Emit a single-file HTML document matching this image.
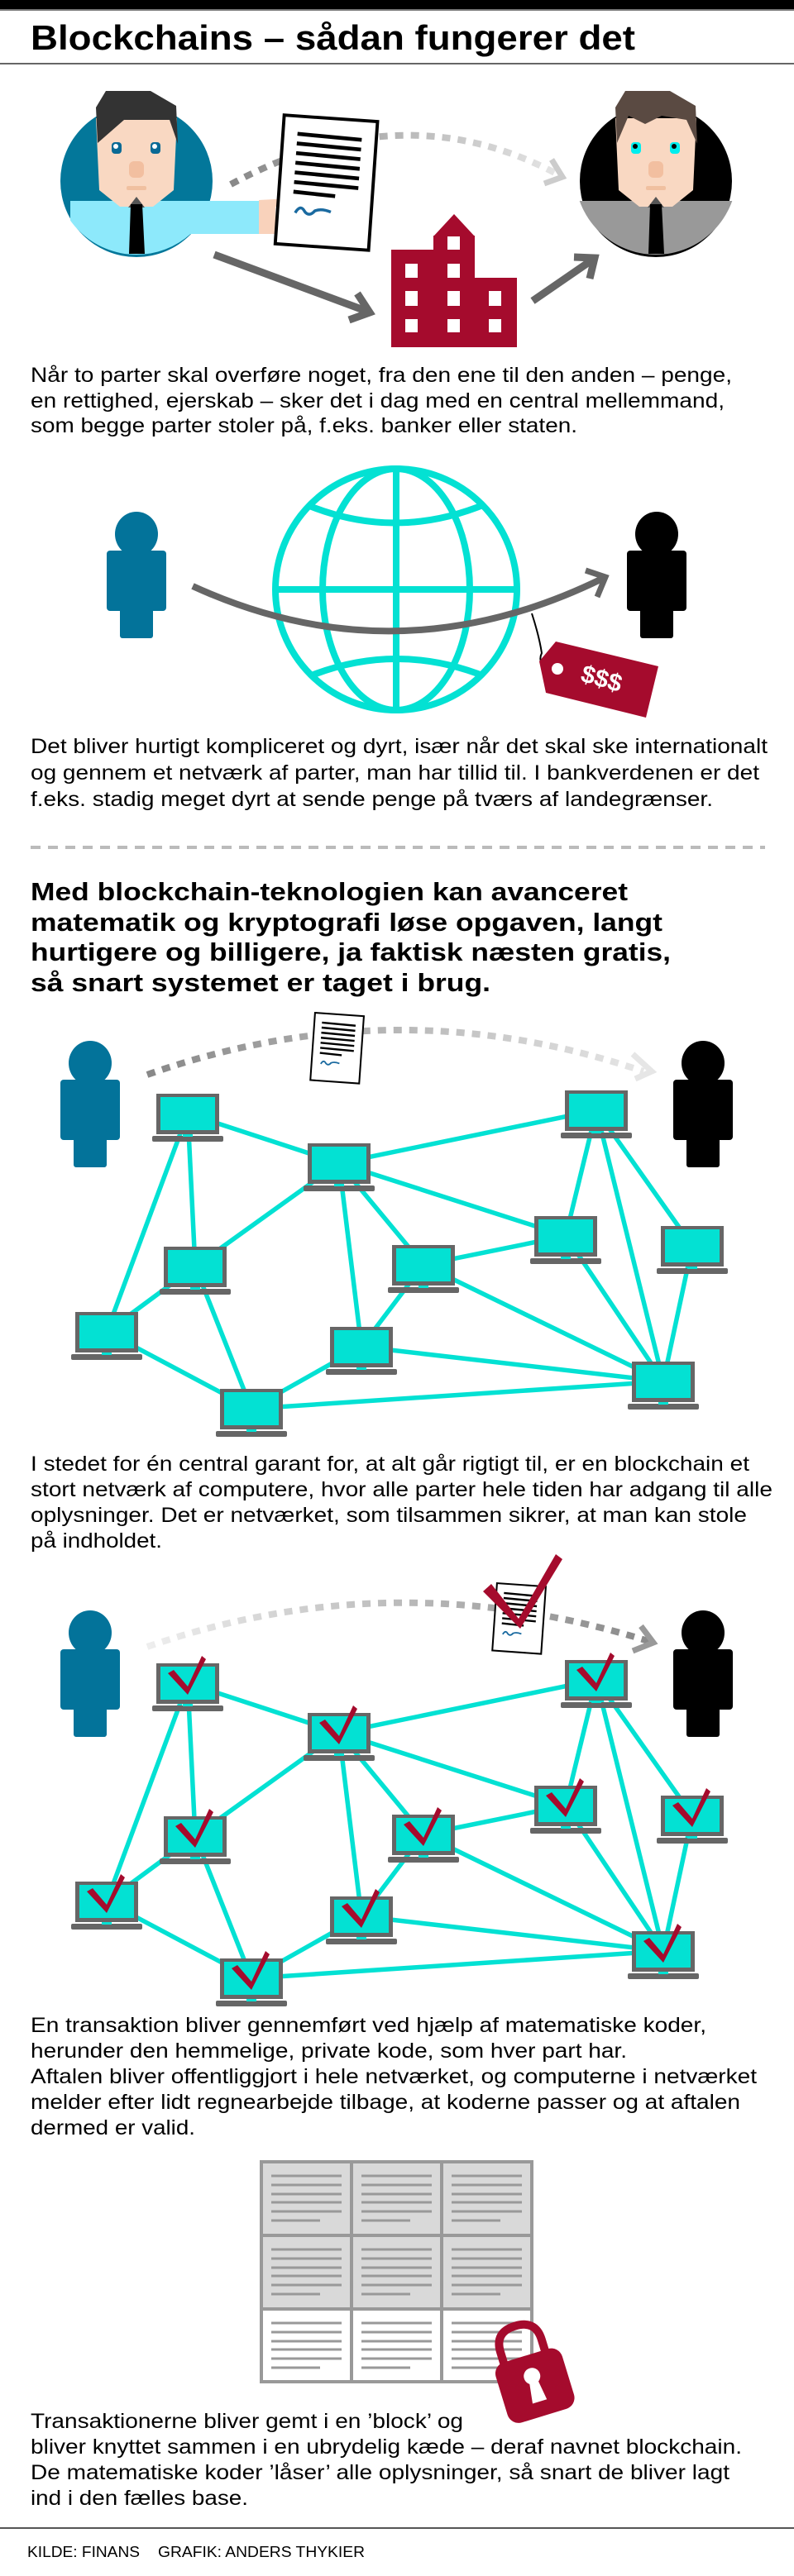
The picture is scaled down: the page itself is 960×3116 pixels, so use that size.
<!DOCTYPE html>
<html><head><meta charset="utf-8"><style>html,body{margin:0;padding:0;background:#fff}svg{display:block}</style></head>
<body>
<svg xmlns="http://www.w3.org/2000/svg" xmlns:xlink="http://www.w3.org/1999/xlink" width="960" height="3116" viewBox="0 0 960 3116" font-family="Liberation Sans, Arial, sans-serif">
<defs>
<g id="lap">
<rect x="-38" y="-24" width="76" height="49" fill="#666"/>
<rect x="-33" y="-20" width="66" height="40" fill="#03e1d3"/>
<rect x="-43" y="27" width="86" height="7" rx="2" fill="#666"/>
<rect x="-6" y="25" width="12" height="3" fill="#03e1d3"/>
</g>
<polygon id="chk" points="-24,-12 -17,-16 0,4 17,-33 22,-29 0,14" fill="#a50b2d"/>
<g id="pers">
<ellipse cx="0" cy="0" rx="26" ry="27"/>
<rect x="-36" y="20" width="72" height="73" rx="4"/>
<rect x="-20" y="80" width="40" height="46" rx="3"/>
</g>
<g id="doc">
<rect x="0" y="0" width="58" height="80" fill="#fff" stroke="#000" stroke-width="2"/>
<g stroke="#000" stroke-width="2.4">
<line x1="9" y1="11" x2="49" y2="12"/><line x1="9" y1="17" x2="49" y2="18"/><line x1="9" y1="23" x2="49" y2="24"/><line x1="9" y1="29" x2="49" y2="30"/><line x1="9" y1="35" x2="49" y2="36"/><line x1="9" y1="41" x2="49" y2="42"/><line x1="9" y1="47" x2="35" y2="48"/>
</g>
<path d="M11,60 q3,-6 6,-1 q3,3 6,-1 q4,-2 10,0" fill="none" stroke="#1a6aa0" stroke-width="1.8"/>
</g>
<g id="cell">
<g stroke="#999" stroke-width="3">
<line x1="14" y1="19" x2="99" y2="19"/><line x1="14" y1="30" x2="99" y2="30"/><line x1="14" y1="41" x2="99" y2="41"/><line x1="14" y1="51" x2="99" y2="51"/><line x1="14" y1="62" x2="99" y2="62"/><line x1="14" y1="73" x2="73" y2="73"/>
</g>
</g>
<linearGradient id="gL" x1="0" x2="1"><stop offset="0" stop-color="#888"/><stop offset="1" stop-color="#e6e6e6"/></linearGradient>
<linearGradient id="gR" x1="0" x2="1"><stop offset="0" stop-color="#eee"/><stop offset="1" stop-color="#888"/></linearGradient>
<clipPath id="c1"><circle cx="165" cy="210" r="98"/><rect x="200" y="243" width="115" height="40"/></clipPath>
<clipPath id="c2"><circle cx="793" cy="210" r="98"/></clipPath>
<clipPath id="glob"><circle cx="479" cy="713" r="149"/></clipPath>
</defs>

<!-- header -->
<rect x="0" y="0" width="960" height="11" fill="#000"/>
<rect x="0" y="11" width="960" height="2" fill="#777"/>
<text x="37" y="60" font-size="42" font-weight="bold" textLength="731" lengthAdjust="spacingAndGlyphs">Blockchains – sådan fungerer det</text>
<rect x="0" y="76" width="960" height="2" fill="#666"/>

<!-- section 1 -->
<circle cx="165" cy="219" r="92" fill="#03779a"/>
<circle cx="793" cy="219" r="92" fill="#000"/>
<path d="M279,223 Q490,109 680,214" fill="none" stroke="url(#gL)" stroke-width="8" stroke-dasharray="10 9"/>
<polyline points="667,193 680,214 658,222" fill="none" stroke="#ccc" stroke-width="7"/>
<g clip-path="url(#c1)">
<path d="M85,243 L313,243 L313,283 L250,283 L240,330 L85,330 Z" fill="#8de9fb"/>
</g>
<path d="M313,242 L350,240 Q355,245 345,249 L333,250 L333,283 L313,283 Z" fill="#f9d2bb"/>
<polygon points="116,143 214,143 210,230 185,250 145,250 120,230" fill="#f9d8c2"/>
<polygon points="128,110 182,110 213,128 215,174 205,145 150,145 118,173 116,130" fill="#333"/>
<polygon points="155,251 165,238 175,251" fill="#555"/>
<polygon points="158,247 172,247 175,307 156,307" fill="#000"/>
<rect x="135" y="172" width="12" height="14" rx="4" fill="#0a6a95"/><rect x="182" y="172" width="12" height="14" rx="4" fill="#0a6a95"/>
<circle cx="140" cy="177" r="3" fill="#fff"/><circle cx="187" cy="177" r="3" fill="#fff"/>
<rect x="156" y="195" width="18" height="20" rx="6" fill="#f2bfa0"/>
<rect x="153" y="225" width="24" height="5" rx="2" fill="#f0c0a0"/>
<g transform="rotate(4 395 222)"><use xlink:href="#doc" transform="translate(338,143) scale(1.95 1.95)"/></g>

<g clip-path="url(#c2)"><rect x="690" y="243" width="220" height="70" fill="#999"/></g>
<polygon points="744,143 842,143 838,230 813,250 773,250 748,230" fill="#f9d8c2"/>
<polygon points="756,110 810,110 841,128 843,174 830,145 800,140 780,150 760,140 746,173 744,130" fill="#5a4a42"/>
<polygon points="783,251 793,238 803,251" fill="#555"/>
<polygon points="786,247 800,247 803,307 784,307" fill="#000"/>
<rect x="763" y="172" width="12" height="14" rx="4" fill="#0ee"/><rect x="810" y="172" width="12" height="14" rx="4" fill="#0ee"/>
<circle cx="768" cy="177" r="3" fill="#000"/><circle cx="815" cy="177" r="3" fill="#000"/>
<rect x="784" y="195" width="18" height="20" rx="6" fill="#f2bfa0"/>
<rect x="781" y="225" width="24" height="5" rx="2" fill="#f0c0a0"/>

<!-- building -->
<g fill="#a50b2d">
<polygon points="524,286 549,259 574,286"/>
<rect x="524" y="285" width="50" height="135"/>
<rect x="473" y="302" width="52" height="118"/>
<rect x="573" y="336" width="52" height="84"/>
</g>
<g fill="#fff">
<rect x="541" y="286" width="15" height="16"/>
<rect x="490" y="319" width="15" height="17"/><rect x="541" y="319" width="15" height="17"/>
<rect x="490" y="352" width="15" height="18"/><rect x="541" y="352" width="15" height="18"/><rect x="591" y="352" width="15" height="18"/>
<rect x="490" y="386" width="15" height="16"/><rect x="541" y="386" width="15" height="16"/><rect x="591" y="386" width="15" height="16"/>
</g>
<g stroke="#666" stroke-width="9" fill="none">
<line x1="259" y1="308" x2="445" y2="377"/>
<polyline points="432,355 447,378 422,387"/>
<line x1="644" y1="364" x2="718" y2="313"/>
<polyline points="694,311 719,312 713,337"/>
</g>

<g font-size="25">
<text x="37" y="462" textLength="848" lengthAdjust="spacingAndGlyphs">Når to parter skal overføre noget, fra den ene til den anden – penge,</text>
<text x="37" y="493" textLength="839" lengthAdjust="spacingAndGlyphs">en rettighed, ejerskab – sker det i dag med en central mellemmand,</text>
<text x="37" y="523" textLength="661" lengthAdjust="spacingAndGlyphs">som begge parter stoler på, f.eks. banker eller staten.</text>
</g>

<!-- section 2 -->
<use xlink:href="#pers" transform="translate(165,646)" fill="#03739a"/>
<use xlink:href="#pers" transform="translate(794,646)" fill="#000"/>
<g fill="none" stroke="#03e1d3" stroke-width="8">
<circle cx="479" cy="713" r="146"/>
<ellipse cx="479" cy="713" rx="89" ry="146"/>
<g clip-path="url(#glob)">
<line x1="479" y1="560" x2="479" y2="870"/>
<line x1="320" y1="713" x2="640" y2="713"/>
<path d="M360,606 Q479,660 600,604"/>
<path d="M360,824 Q479,770 600,824"/>
</g>
</g>
<path d="M233,709 Q479,822 728,700" fill="none" stroke="#666" stroke-width="8"/>
<polyline points="708,690 732,698 722,722" fill="none" stroke="#666" stroke-width="7"/>
<path d="M643,742 Q652,770 655,790 Q650,800 660,810" fill="none" stroke="#000" stroke-width="2"/>
<polygon points="652,800 672,776 796,806 781,868 660,838" fill="#a50b2d"/>
<circle cx="674" cy="809" r="7" fill="#fff"/>
<text x="700" y="832" font-size="30" font-weight="bold" fill="#fff" transform="rotate(16 730 830)">$$$</text>

<g font-size="25">
<text x="37" y="911" textLength="891" lengthAdjust="spacingAndGlyphs">Det bliver hurtigt kompliceret og dyrt, især når det skal ske internationalt</text>
<text x="37" y="943" textLength="881" lengthAdjust="spacingAndGlyphs">og gennem et netværk af parter, man har tillid til. I bankverdenen er det</text>
<text x="37" y="975" textLength="825" lengthAdjust="spacingAndGlyphs">f.eks. stadig meget dyrt at sende penge på tværs af landegrænser.</text>
</g>
<line x1="37" y1="1025" x2="925" y2="1025" stroke="#bbb" stroke-width="4" stroke-dasharray="12 9"/>
<g font-size="31" font-weight="bold">
<text x="37" y="1089" textLength="722" lengthAdjust="spacingAndGlyphs">Med blockchain-teknologien kan avanceret</text>
<text x="37" y="1126" textLength="764" lengthAdjust="spacingAndGlyphs">matematik og kryptografi løse opgaven, langt</text>
<text x="37" y="1162" textLength="774" lengthAdjust="spacingAndGlyphs">hurtigere og billigere, ja faktisk næsten gratis,</text>
<text x="37" y="1199" textLength="556" lengthAdjust="spacingAndGlyphs">så snart systemet er taget i brug.</text>
</g>

<!-- network 1 -->
<g id="net">
<g stroke="#03e1d3" stroke-width="5.5">
<line x1="227" y1="1347" x2="410" y2="1407"/>
<line x1="227" y1="1347" x2="236" y2="1532"/>
<line x1="227" y1="1347" x2="129" y2="1611"/>
<line x1="410" y1="1407" x2="721" y2="1343"/>
<line x1="410" y1="1407" x2="236" y2="1532"/>
<line x1="410" y1="1407" x2="437" y2="1629"/>
<line x1="410" y1="1407" x2="512" y2="1530"/>
<line x1="410" y1="1407" x2="684" y2="1495"/>
<line x1="721" y1="1343" x2="684" y2="1495"/>
<line x1="721" y1="1343" x2="802" y2="1671"/>
<line x1="721" y1="1343" x2="837" y2="1507"/>
<line x1="684" y1="1495" x2="512" y2="1530"/>
<line x1="684" y1="1495" x2="802" y2="1671"/>
<line x1="512" y1="1530" x2="802" y2="1671"/>
<line x1="512" y1="1530" x2="437" y2="1629"/>
<line x1="837" y1="1507" x2="802" y2="1671"/>
<line x1="236" y1="1532" x2="129" y2="1611"/>
<line x1="236" y1="1532" x2="304" y2="1704"/>
<line x1="129" y1="1611" x2="304" y2="1704"/>
<line x1="304" y1="1704" x2="437" y2="1629"/>
<line x1="437" y1="1629" x2="802" y2="1671"/>
<line x1="304" y1="1704" x2="802" y2="1671"/>
</g>
<use xlink:href="#lap" x="227" y="1347"/>
<use xlink:href="#lap" x="410" y="1407"/>
<use xlink:href="#lap" x="721" y="1343"/>
<use xlink:href="#lap" x="236" y="1532"/>
<use xlink:href="#lap" x="512" y="1530"/>
<use xlink:href="#lap" x="684" y="1495"/>
<use xlink:href="#lap" x="837" y="1507"/>
<use xlink:href="#lap" x="129" y="1611"/>
<use xlink:href="#lap" x="437" y="1629"/>
<use xlink:href="#lap" x="802" y="1671"/>
<use xlink:href="#lap" x="304" y="1704"/>
<use xlink:href="#pers" transform="translate(109,1286)" fill="#03739a"/>
<use xlink:href="#pers" transform="translate(850,1286)" fill="#000"/>
</g>
<path d="M178,1300 Q478,1194 778,1296" fill="none" stroke="url(#gL)" stroke-width="8" stroke-dasharray="10 9"/>
<polyline points="765,1275 788,1296 768,1305" fill="none" stroke="#e6e6e6" stroke-width="7"/>
<g transform="rotate(4 407 1268)"><use xlink:href="#doc" transform="translate(378,1227) scale(1.02 1.02)"/></g>

<g font-size="25">
<text x="37" y="1779" textLength="869" lengthAdjust="spacingAndGlyphs">I stedet for én central garant for, at alt går rigtigt til, er en blockchain et</text>
<text x="37" y="1810" textLength="897" lengthAdjust="spacingAndGlyphs">stort netværk af computere, hvor alle parter hele tiden har adgang til alle</text>
<text x="37" y="1841" textLength="866" lengthAdjust="spacingAndGlyphs">oplysninger. Det er netværket, som tilsammen sikrer, at man kan stole</text>
<text x="37" y="1872" textLength="159" lengthAdjust="spacingAndGlyphs">på indholdet.</text>
</g>

<!-- network 2 -->
<use xlink:href="#net" transform="translate(0,689)"/>
<path d="M178,1992 Q478,1888 790,1987" fill="none" stroke="url(#gR)" stroke-width="8" stroke-dasharray="10 9"/>
<polyline points="775,1967 790,1987 765,1997" fill="none" stroke="#999" stroke-width="7"/>
<g transform="rotate(4 627 1958)"><use xlink:href="#doc" transform="translate(598,1917) scale(1.02 1.02)"/></g>
<polygon points="584,1925 594,1916 627,1958 672,1880 680,1886 629,1970" fill="#a50b2d"/>
<g>
<use xlink:href="#chk" x="227" y="2036"/>
<use xlink:href="#chk" x="410" y="2096"/>
<use xlink:href="#chk" x="721" y="2032"/>
<use xlink:href="#chk" x="236" y="2221"/>
<use xlink:href="#chk" x="512" y="2219"/>
<use xlink:href="#chk" x="684" y="2184"/>
<use xlink:href="#chk" x="837" y="2196"/>
<use xlink:href="#chk" x="129" y="2300"/>
<use xlink:href="#chk" x="437" y="2318"/>
<use xlink:href="#chk" x="802" y="2360"/>
<use xlink:href="#chk" x="304" y="2393"/>
</g>

<g font-size="25">
<text x="37" y="2458" textLength="817" lengthAdjust="spacingAndGlyphs">En transaktion bliver gennemført ved hjælp af matematiske koder,</text>
<text x="37" y="2489" textLength="721" lengthAdjust="spacingAndGlyphs">herunder den hemmelige, private kode, som hver part har.</text>
<text x="37" y="2520" textLength="878" lengthAdjust="spacingAndGlyphs">Aftalen bliver offentliggjort i hele netværket, og computerne i netværket</text>
<text x="37" y="2551" textLength="858" lengthAdjust="spacingAndGlyphs">melder efter lidt regnearbejde tilbage, at koderne passer og at aftalen</text>
<text x="37" y="2582" textLength="199" lengthAdjust="spacingAndGlyphs">dermed er valid.</text>
</g>

<!-- blocks -->
<rect x="316" y="2615" width="327" height="178" fill="#d9d9d9"/>
<rect x="316" y="2793" width="327" height="88" fill="#fff"/>
<g stroke="#999" stroke-width="4" fill="none">
<rect x="316" y="2615" width="327" height="266"/>
<line x1="425" y1="2615" x2="425" y2="2881"/><line x1="534" y1="2615" x2="534" y2="2881"/>
<line x1="316" y1="2704" x2="643" y2="2704"/><line x1="316" y1="2793" x2="643" y2="2793"/>
</g>
<use xlink:href="#cell" x="314" y="2613"/><use xlink:href="#cell" x="423" y="2613"/><use xlink:href="#cell" x="532" y="2613"/>
<use xlink:href="#cell" x="314" y="2702"/><use xlink:href="#cell" x="423" y="2702"/><use xlink:href="#cell" x="532" y="2702"/>
<use xlink:href="#cell" x="314" y="2791"/><use xlink:href="#cell" x="423" y="2791"/><use xlink:href="#cell" x="532" y="2791"/>
<g transform="rotate(-17 645 2880)">
<path d="M617,2855 L617,2835 Q617,2810 643,2810 Q669,2810 669,2835 L669,2855" fill="none" stroke="#a50b2d" stroke-width="10"/>
<rect x="603" y="2848" width="84" height="76" rx="14" fill="#a50b2d"/>
<circle cx="645" cy="2874" r="10" fill="#fff"/>
<polygon points="640,2878 650,2878 654,2906 636,2906" fill="#fff"/>
</g>

<g font-size="25">
<text x="37" y="2937" textLength="523" lengthAdjust="spacingAndGlyphs">Transaktionerne bliver gemt i en ’block’ og</text>
<text x="37" y="2968" textLength="860" lengthAdjust="spacingAndGlyphs">bliver knyttet sammen i en ubrydelig kæde – deraf navnet blockchain.</text>
<text x="37" y="2999" textLength="845" lengthAdjust="spacingAndGlyphs">De matematiske koder ’låser’ alle oplysninger, så snart de bliver lagt</text>
<text x="37" y="3030" textLength="263" lengthAdjust="spacingAndGlyphs">ind i den fælles base.</text>
</g>
<rect x="0" y="3057" width="960" height="2" fill="#555"/>
<text x="33" y="3093" font-size="18" textLength="136" lengthAdjust="spacingAndGlyphs">KILDE: FINANS</text>
<text x="191" y="3093" font-size="18" textLength="250" lengthAdjust="spacingAndGlyphs">GRAFIK: ANDERS THYKIER</text>
</svg>
</body></html>
